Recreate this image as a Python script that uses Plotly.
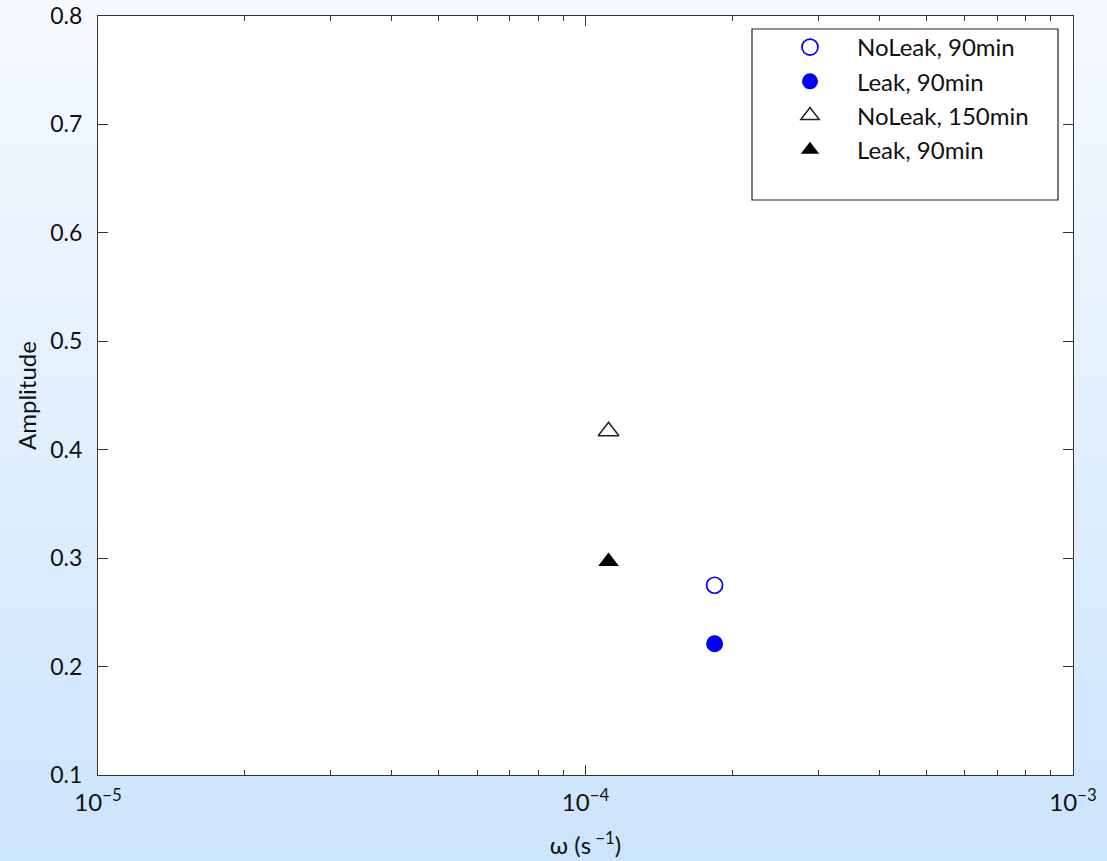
import plotly.graph_objects as go

# Measured amplitude response at two forcing frequencies
series_names = ["NoLeak, 90min", "Leak, 90min", "NoLeak, 150min", "Leak, 90min"]
omega = [1.84e-4, 1.84e-4, 1.115e-4, 1.115e-4]       # s^-1
amplitude = [0.275, 0.221, 0.417, 0.297]

x_tick_vals = [1e-5, 1e-4, 1e-3]
x_tick_text = ["10<sup>\u22125</sup>", "10<sup>\u22124</sup>", "10<sup>\u22123</sup>"]
x_minor_vals = [m * 10.0 ** e for e in (-5, -4) for m in range(2, 10)]
y_tick_vals = [0.1, 0.2, 0.3, 0.4, 0.5, 0.6, 0.7, 0.8]

marker_styles = [
    dict(symbol="circle-open", color="#0000ff", size=16, line=dict(width=1.7, color="#0000ff")),
    dict(symbol="circle", color="#0000ff", size=17, line=dict(width=0)),
    dict(symbol="triangle-up-open", color="#222222", size=18, line=dict(width=1.5, color="#222222")),
    dict(symbol="triangle-up", color="#000000", size=18, line=dict(width=0)),
]

FONT = "Lato"
W, H = 1107, 861
ML, MR, MT, MB = 98, 34, 16, 86
PW, PH = W - ML - MR, H - MT - MB

fig = go.Figure()
for name, x, y, mk in zip(series_names, omega, amplitude, marker_styles):
    fig.add_trace(go.Scatter(x=[x], y=[y], mode="markers", name=name, marker=mk))

# Vertical background gradient behind the whole figure
shapes = []
n_strips = 90
top_rgb = (246, 250, 255)
bot_rgb = (204, 228, 252)
y_bottom = -MB / PH
y_top = 1 + MT / PH
for i in range(n_strips):
    t = i / (n_strips - 1)
    c = tuple(round(top_rgb[k] + (bot_rgb[k] - top_rgb[k]) * t) for k in range(3))
    y1 = y_top - (y_top - y_bottom) * i / n_strips
    y0 = y_top - (y_top - y_bottom) * (i + 1) / n_strips
    shapes.append(dict(type="rect", xref="paper", yref="paper",
                       x0=-ML / PW, x1=1 + MR / PW, y0=y0 - 0.001, y1=y1,
                       fillcolor="rgb(%d,%d,%d)" % c, line=dict(width=0), layer="below"))
# White plotting area
shapes.append(dict(type="rect", xref="paper", yref="paper", x0=0, x1=1, y0=0, y1=1,
                   fillcolor="white", line=dict(width=0), layer="below"))
# Legend frame
lx0, lx1, ly0, ly1 = 752, 1058, 29, 200
shapes.append(dict(type="rect", xref="paper", yref="paper",
                   x0=(lx0 - ML) / PW, x1=(lx1 - ML) / PW,
                   y0=(H - MB - ly1) / PH, y1=(H - MB - ly0) / PH,
                   fillcolor="white", line=dict(width=1.2, color="#222222"), layer="below"))

axis_common = dict(showline=True, linecolor="#333333", linewidth=1.2, mirror="ticks",
                   ticks="inside", tickcolor="#333333", tickwidth=1.2,
                   showgrid=False, zeroline=False)

fig.update_layout(
    width=W, height=H, autosize=False,
    margin=dict(l=ML, r=MR, t=MT, b=MB, autoexpand=False),
    paper_bgcolor="rgba(0,0,0,0)", plot_bgcolor="white",
    shapes=shapes,
    showlegend=True,
    legend=dict(x=(763 - ML) / PW, y=1.0 - 9 / PH,
                xanchor="left", yanchor="top",
                bgcolor="rgba(0,0,0,0)", borderwidth=0,
                font=dict(family=FONT, size=24, color="#111111"),
                itemwidth=84, tracegroupgap=0),
    xaxis=dict(type="log", range=[-5, -3], tickvals=x_tick_vals, ticktext=x_tick_text,
               ticklen=10, ticklabelstandoff=6,
               tickfont=dict(family=FONT, size=24, color="#111111"),
               minor=dict(ticks="inside", ticklen=5, tickcolor="#333333",
                          tickwidth=1.2, showgrid=False, tickvals=x_minor_vals),
               title=dict(text="\u03c9 (s<sup> \u22121</sup>)", standoff=22,
                          font=dict(family=FONT, size=24, color="#111111")),
               **axis_common),
    yaxis=dict(range=[0.1, 0.8], tickvals=y_tick_vals, tickformat=".1f", ticklen=10,
               ticklabelstandoff=10,
               tickfont=dict(family=FONT, size=23, color="#111111"),
               title=dict(text="Amplitude", standoff=6,
                          font=dict(family=FONT, size=24, color="#111111")),
               **axis_common),
)

fig.write_html("out.html")
